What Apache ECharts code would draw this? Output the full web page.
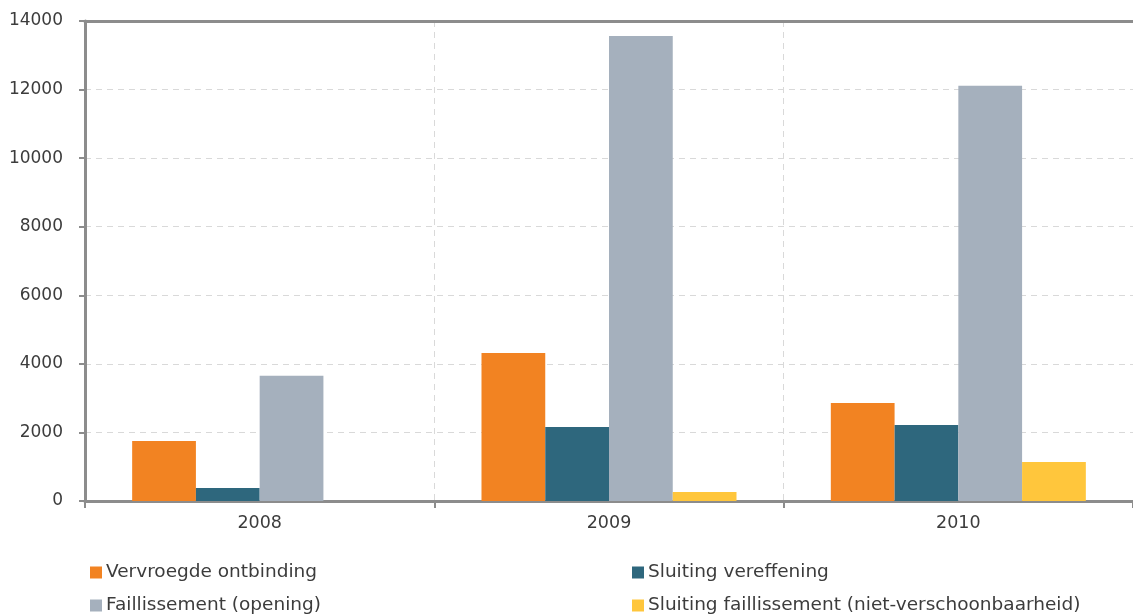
<!DOCTYPE html>
<html><head><meta charset="utf-8">
<script src="https://cdn.jsdelivr.net/npm/echarts@6/dist/echarts.min.js"></script>
<style>html,body{margin:0;padding:0;background:#fff}#c{width:1133px;height:614px}</style>
</head><body><div id="c"></div>
<script>
const categories = ['2008', '2009', '2010'];
const seriesNames = ['Vervroegde ontbinding', 'Sluiting vereffening', 'Faillissement (opening)', 'Sluiting faillissement (niet-verschoonbaarheid)'];
const vervroegde = [1750, 4320, 2860];
const vereffening = [380, 2160, 2220];
const faillissement = [3650, 13560, 12110];
const nietVerschoonbaar = [0, 260, 1140];
const colors = ['#F28322', '#2E677D', '#A5B0BD', '#FFC63C'];
const values = [vervroegde, vereffening, faillissement, nietVerschoonbaar];

const chart = echarts.init(document.getElementById('c'));
const font = 'DejaVu Sans';
const legendBase = {
  top: 563, orient: 'vertical', padding: 0, height: 52, width: 500,
  itemWidth: 12, itemHeight: 12, itemGap: 14, icon: 'rect',
  textStyle: { fontFamily: font, fontSize: 18.5, color: '#3c3c3c', padding: [0, 0, 0, -1] }
};
chart.setOption({
  animation: false,
  textStyle: { fontFamily: font },
  grid: { left: 85, top: 21, width: 1053, bottom: 113 },
  legend: [
    Object.assign({}, legendBase, { left: 90, data: [seriesNames[0], seriesNames[2]] }),
    Object.assign({}, legendBase, { left: 632, data: [seriesNames[1], seriesNames[3]] })
  ],
  xAxis: [{
    type: 'category', data: categories,
    axisLine: { lineStyle: { color: '#8c8c8c', width: 3 } },
    axisTick: { show: true, length: 7, lineStyle: { color: '#8c8c8c', width: 2 } },
    axisLabel: { fontSize: 17.5, color: '#3c3c3c', margin: 13, fontFamily: font },
    splitLine: { show: true, lineStyle: { color: '#d9d9d9', type: [6, 5], width: 1 } }
  }, {
    type: 'category', data: categories, position: 'top',
    axisLine: { lineStyle: { color: '#8c8c8c', width: 3 } },
    axisTick: { show: false }, axisLabel: { show: false }, splitLine: { show: false }
  }],
  yAxis: {
    type: 'value', min: 0, max: 14000, interval: 2000,
    axisLine: { show: true, lineStyle: { color: '#8c8c8c', width: 3 } },
    axisTick: { show: true, length: 6, lineStyle: { color: '#8c8c8c', width: 2 } },
    axisLabel: { fontSize: 17, color: '#3c3c3c', margin: 22, fontFamily: font,
      formatter: v => String(v) },
    splitLine: { show: true, lineStyle: { color: '#d9d9d9', type: [6, 5], width: 1 } }
  },
  series: seriesNames.map((n, i) => ({
    name: n, type: 'bar', data: values[i], barGap: '0%', barCategoryGap: '27%',
    itemStyle: { color: colors[i] }
  }))
});
</script></body></html>
